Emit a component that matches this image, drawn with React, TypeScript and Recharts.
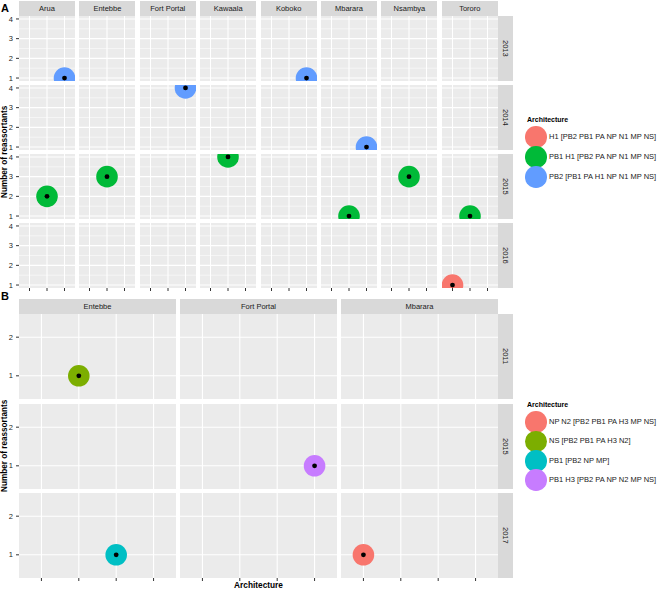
import { ScatterChart, Scatter, XAxis, YAxis, CartesianGrid } from "recharts";

const FONT = '"Liberation Sans", Arial, Helvetica, sans-serif';

// Panel A: sites x years, three architectures
const sitesA = ["Arua", "Entebbe", "Fort Portal", "Kawaala", "Koboko", "Mbarara", "Nsambya", "Tororo"];
const yearsA = ["2013", "2014", "2015", "2016"];
const archA = [
  "H1 [PB2 PB1 PA NP N1 MP NS]",
  "PB1 H1 [PB2 PA NP N1 MP NS]",
  "PB2 [PB1 PA H1 NP N1 MP NS]",
];
const colorsA = ["#F8766D", "#00BA38", "#619CFF"];
// [site, year, architecture index, number of reassortants]
const obsA: [string, string, number, number][] = [
  ["Arua", "2013", 2, 1],
  ["Koboko", "2013", 2, 1],
  ["Fort Portal", "2014", 2, 4],
  ["Mbarara", "2014", 2, 1],
  ["Arua", "2015", 1, 2],
  ["Entebbe", "2015", 1, 3],
  ["Kawaala", "2015", 1, 4],
  ["Mbarara", "2015", 1, 1],
  ["Nsambya", "2015", 1, 3],
  ["Tororo", "2015", 1, 1],
  ["Tororo", "2016", 0, 1],
];
const yTicksA = [1, 2, 3, 4];
const yMinorA = [1.5, 2.5, 3.5];

// Panel B
const sitesB = ["Entebbe", "Fort Portal", "Mbarara"];
const yearsB = ["2011", "2015", "2017"];
const archB = [
  "NP N2 [PB2 PB1 PA H3 MP NS]",
  "NS [PB2 PB1 PA H3 N2]",
  "PB1 [PB2 NP MP]",
  "PB1 H3 [PB2 PA NP N2 MP NS]",
];
const colorsB = ["#F8766D", "#7CAE00", "#00BFC4", "#C77CFF"];
const obsB: [string, string, number, number][] = [
  ["Entebbe", "2011", 1, 1],
  ["Fort Portal", "2015", 3, 1],
  ["Entebbe", "2017", 2, 1],
  ["Mbarara", "2017", 0, 1],
];
const yTicksB = [1, 2];

const AXW = 19;
const PAD = 4; // room above/below each panel so tick labels are not clipped

const Dot = (props: any) => {
  const { cx, cy, payload } = props;
  return (
    <g>
      <circle cx={cx} cy={cy} r={10.8} fill={payload.color} />
      <circle cx={cx} cy={cy} r={2.4} fill="#000" />
    </g>
  );
};

function Panel({ x, y, w, h, left, bottom, nCat, yDomain, yTicks, yMinor, data }: any) {
  const cw = w + (left ? AXW : 0);
  const ch = h + PAD * 2;
  const xt = Array.from({ length: nCat }, (_, i) => i + 1);
  return (
    <div style={{ position: "absolute", left: x - (left ? AXW : 0), top: y - PAD }}>
      <ScatterChart width={cw} height={ch} margin={{ top: PAD, right: 0, bottom: bottom ? 0 : PAD, left: 0 }}>
        <CartesianGrid fill="#EBEBEB" stroke="#fff" strokeWidth={1.1} horizontalValues={yTicks} verticalValues={xt} />
        {yMinor && (
          <CartesianGrid stroke="#fff" strokeWidth={0.5} horizontalValues={yMinor} vertical={false} />
        )}
        <XAxis
          type="number"
          dataKey="x"
          domain={[0.4, nCat + 0.6]}
          ticks={xt}
          interval={0}
          allowDataOverflow
          hide={!bottom}
          height={PAD}
          axisLine={false}
          tickSize={3}
          stroke="#333"
          tickFormatter={() => ""}
        />
        <YAxis
          type="number"
          dataKey="y"
          domain={yDomain}
          ticks={yTicks}
          interval={0}
          allowDataOverflow
          hide={!left}
          width={AXW}
          axisLine={false}
          tickSize={3}
          tickMargin={3}
          stroke="#333"
          tick={{ fontSize: 7.5, fill: "#262626", fontFamily: FONT }}
        />
        <Scatter data={data} shape={Dot} isAnimationActive={false} />
      </ScatterChart>
    </div>
  );
}

const stripStyle: any = {
  position: "absolute",
  background: "#D9D9D9",
  color: "#1A1A1A",
  fontSize: 7.5,
  fontFamily: FONT,
  display: "flex",
  alignItems: "center",
  justifyContent: "center",
  overflow: "hidden",
  whiteSpace: "nowrap",
};

function Facet({ sites, years, arch, colors, obs, x0, xs, w, y0, ys, h, yDomain, yTicks, yMinor }: any) {
  const out: any[] = [];
  sites.forEach((s: string, ci: number) => {
    out.push(
      <div key={"s" + s} style={{ ...stripStyle, left: x0 + ci * xs, top: y0 - 15, width: w, height: 15 }}>
        {s}
      </div>
    );
  });
  years.forEach((yr: string, ri: number) => {
    out.push(
      <div
        key={"r" + yr}
        style={{ ...stripStyle, left: x0 + (sites.length - 1) * xs + w, top: y0 + ri * ys, width: 15, height: h, writingMode: "vertical-rl" }}
      >
        {yr}
      </div>
    );
    sites.forEach((s: string, ci: number) => {
      const data = obs
        .filter((o: any) => o[0] === s && o[1] === yr)
        .map((o: any) => ({ x: o[2] + 1, y: o[3], color: colors[o[2]], arch: arch[o[2]] }));
      out.push(
        <Panel
          key={s + yr}
          x={x0 + ci * xs}
          y={y0 + ri * ys}
          w={w}
          h={h}
          left={ci === 0}
          bottom={ri === years.length - 1}
          nCat={arch.length}
          yDomain={yDomain}
          yTicks={yTicks}
          yMinor={yMinor}
          data={data}
        />
      );
    });
  });
  const total = (years.length - 1) * ys + h;
  out.push(
    <div
      key="ytitle"
      style={{
        position: "absolute",
        left: -1,
        top: y0,
        width: 11,
        height: total,
        display: "flex",
        alignItems: "center",
        justifyContent: "center",
        writingMode: "vertical-rl",
        transform: "rotate(180deg)",
        fontFamily: FONT,
        fontWeight: "bold",
        fontSize: 8.2,
        color: "#000",
        whiteSpace: "nowrap",
      }}
    >
      Number of reassortants
    </div>
  );
  return <>{out}</>;
}

function Key({ x, y, arch, colors, step }: any) {
  return (
    <div style={{ position: "absolute", left: x, top: y, fontFamily: FONT }}>
      <div style={{ position: "absolute", left: 0, top: -5, fontSize: 7, fontWeight: "bold", whiteSpace: "nowrap", color: "#000" }}>
        Architecture
      </div>
      {arch.map((a: string, i: number) => (
        <div key={a}>
          <div
            style={{
              position: "absolute",
              left: 9 - 10.8,
              top: 16 + i * step - 10.8,
              width: 21.6,
              height: 21.6,
              borderRadius: "50%",
              background: colors[i],
            }}
          />
          <div
            style={{
              position: "absolute",
              left: 22,
              top: 16 + i * step - 5,
              fontSize: 7.5,
              lineHeight: "10px",
              color: "#1A1A1A",
              whiteSpace: "nowrap",
            }}
          >
            {a}
          </div>
        </div>
      ))}
    </div>
  );
}

export default function App() {
  return (
    <div style={{ position: "absolute", left: 0, top: 0, width: 658, height: 589, background: "#fff", overflow: "hidden" }}>
      <div style={{ position: "absolute", left: 1, top: 2, fontFamily: FONT, fontWeight: "bold", fontSize: 11 }}>A</div>
      <div style={{ position: "absolute", left: 1, top: 290, fontFamily: FONT, fontWeight: "bold", fontSize: 11 }}>B</div>
      <Facet
        sites={sitesA}
        years={yearsA}
        arch={archA}
        colors={colorsA}
        obs={obsA}
        x0={19}
        xs={60.4}
        w={56}
        y0={16}
        ys={69}
        h={65}
        yDomain={[0.85, 4.15]}
        yTicks={yTicksA}
        yMinor={yMinorA}
      />
      <Facet
        sites={sitesB}
        years={yearsB}
        arch={archB}
        colors={colorsB}
        obs={obsB}
        x0={19}
        xs={161}
        w={157}
        y0={314}
        ys={89.5}
        h={85}
        yDomain={[0.4, 2.6]}
        yTicks={yTicksB}
      />
      <Key x={527} y={121} arch={archA} colors={colorsA} step={20} />
      <Key x={527} y={406} arch={archB} colors={colorsB} step={19.4} />
      <div
        style={{
          position: "absolute",
          left: 19,
          width: 479,
          top: 580,
          textAlign: "center",
          fontFamily: FONT,
          fontWeight: "bold",
          fontSize: 8.3,
          color: "#000",
        }}
      >
        Architecture
      </div>
    </div>
  );
}
